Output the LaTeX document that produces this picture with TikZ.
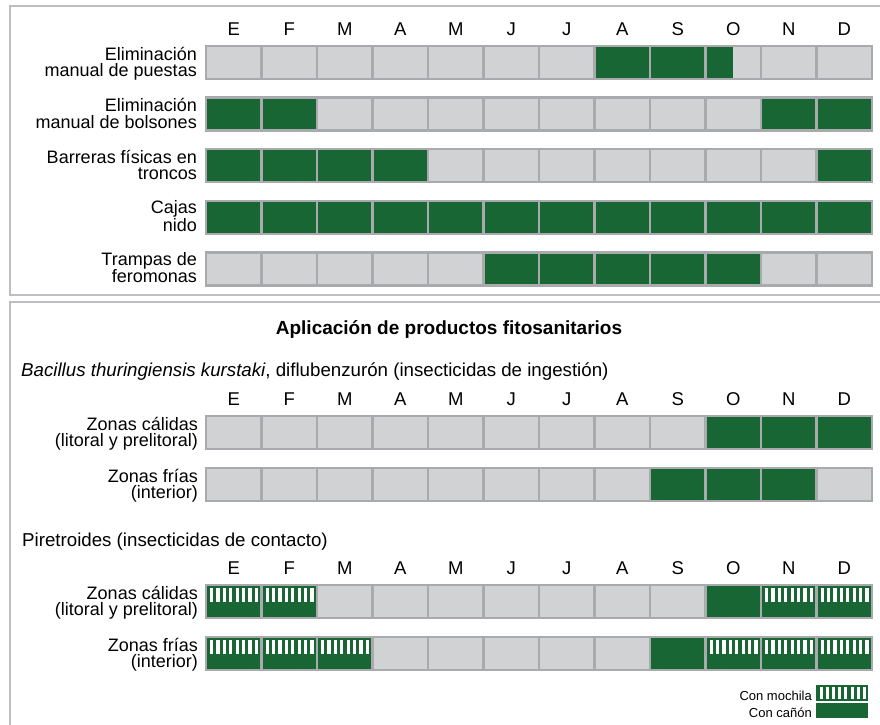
\documentclass[tikz,border=0pt]{standalone}
\usepackage{fontspec}
\setmainfont{Liberation Sans}
\definecolor{cgreen}{HTML}{176634}
\definecolor{cgray}{HTML}{D1D2D4}
\definecolor{cline}{HTML}{A8AAAD}
\definecolor{cframe}{HTML}{BDBEC1}
\newcommand\cellrow[2]{%
  \foreach \s [count=\i from 0] in {#2}{%
    \pgfmathsetmacro\xa{206+\i*55.5}%
    \ifcase\s
      \fill[cgray] (\xa,#1) rectangle ++(55.5,33);
    \or
      \fill[cgreen] (\xa,#1) rectangle ++(55.5,33);
    \or
      \fill[cgreen] (\xa,#1) rectangle ++(55.5,33);
      \foreach \k in {0,...,7}{\fill[white] (\xa+4+\k*6.4,#1+3) rectangle ++(3.2,13.5);}
    \or
      \fill[cgray] (\xa,#1) rectangle ++(55.5,33);
      \fill[cgreen] (\xa,#1) rectangle ++(27.5,33);
    \fi
    \draw[cline, line width=2.4pt] (\xa,#1) rectangle ++(55.5,33);
  }%
}
\newcommand\monthrow[2]{%
  \foreach \m [count=\i from 0] in {E,F,M,A,M,J,J,A,S,O,N,D}{%
    \node[mon] (#1-\i) at (206+27.75+\i*55.5,#2) {\m};
  }%
}
\tikzset{
  mon/.style={font=\fontsize{18.5}{20}\selectfont, anchor=base, inner sep=0pt},
  lab/.style={font=\fontsize{18}{16.5}\selectfont, align=right, anchor=base east, inner sep=0pt},
  txt/.style={font=\fontsize{18.7}{21}\selectfont, anchor=base west, inner sep=0pt},
  leg/.style={font=\fontsize{13}{15}\selectfont, anchor=base east, inner sep=0pt},
  frame/.style={draw=cframe, line width=2.6pt}
}
\begin{document}
\begin{tikzpicture}[x=1pt,y=-1pt]
\useasboundingbox (0,0) rectangle (880,724);
\clip (0,0) rectangle (880,724);
\fill[white] (0,0) rectangle (880,724);
% frames
\draw[frame] (10,6) rectangle (895,295);
\draw[frame] (10,302) rectangle (895,740);
% top panel
\monthrow{ma}{35}
\cellrow{46}{0,0,0,0,0,0,0,1,1,3,0,0}
\cellrow{97.6}{1,1,0,0,0,0,0,0,0,0,1,1}
\cellrow{149.2}{1,1,1,1,0,0,0,0,0,0,0,1}
\cellrow{200.8}{1,1,1,1,1,1,1,1,1,1,1,1}
\cellrow{252.4}{0,0,0,0,0,1,1,1,1,1,0,0}
\node[lab] (l1) at (197,76.5) {Eliminación\\manual de puestas};
\node[lab] (l2) at (197,128.1) {Eliminación\\manual de bolsones};
\node[lab] (l3) at (197,179.7) {Barreras físicas en\\troncos};
\node[lab] (l4) at (197,231.3) {Cajas\\nido};
\node[lab] (l5) at (197,282.9) {Trampas de\\feromonas};
% bottom panel
\node[font=\fontsize{19}{22}\selectfont\bfseries, anchor=base, inner sep=0pt] (title) at (449,334) {Aplicación de productos fitosanitarios};
\node[txt] (bt) at (21,376) {\textit{Bacillus thuringiensis kurstaki}, diflubenzurón (insecticidas de ingestión)};
\monthrow{mb}{405}
\cellrow{416}{0,0,0,0,0,0,0,0,0,1,1,1}
\cellrow{468}{0,0,0,0,0,0,0,0,1,1,1,0}
\node[lab] (l6) at (198,446.5) {Zonas cálidas\\(litoral y prelitoral)};
\node[lab] (l7) at (198,498.5) {Zonas frías\\(interior)};
\node[txt] (pir) at (22,546) {Piretroides (insecticidas de contacto)};
\monthrow{mc}{574}
\cellrow{585}{2,2,0,0,0,0,0,0,0,1,2,2}
\cellrow{637}{2,2,2,0,0,0,0,0,1,2,2,2}
\node[lab] (l8) at (198,615.5) {Zonas cálidas\\(litoral y prelitoral)};
\node[lab] (l9) at (198,667.5) {Zonas frías\\(interior)};
% legend
\node[leg] (lm) at (812,700) {Con mochila};
\node[leg] (lc) at (812,717) {Con cañón};
\fill[cgreen] (816,685) rectangle (868,700.5);
\foreach \k in {0,...,7}{\fill[white] (819.5+\k*6.2,687) rectangle ++(3.1,11.5);}
\fill[cgreen] (816,703) rectangle (868,718);
\end{tikzpicture}
\end{document}
